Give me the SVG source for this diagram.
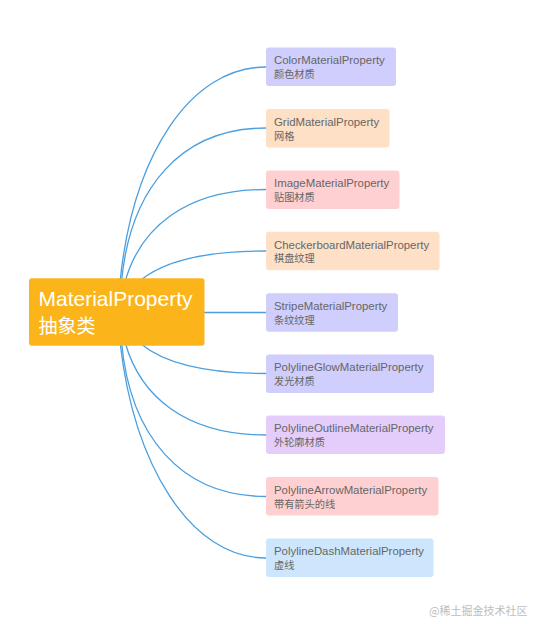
<svg xmlns="http://www.w3.org/2000/svg" width="533" height="624" viewBox="0 0 533 624">
<style>
.bg{fill:#ffffff}
.conn path{fill:none;stroke:#4a9fe0;stroke-width:1.3}
.box{rx:3;ry:3}
.t1{font-family:"Liberation Sans","Noto Sans CJK SC",sans-serif;font-size:11.4px;fill:#666666}
.t2{font-family:"Noto Sans CJK SC","Liberation Sans",sans-serif;font-size:10.2px;fill:#666666}
.mt1{font-family:"Liberation Sans","Noto Sans CJK SC",sans-serif;font-size:21px;fill:#ffffff}
.mt2{font-family:"Noto Sans CJK SC","Liberation Sans",sans-serif;font-size:19px;fill:#ffffff}
.lav{fill:#cfcefc}
.peach{fill:#fde0c6}
.pink{fill:#ffd0d1}
.purple{fill:#e4cdfb}
.blue{fill:#cde6fd}
.wm{font-family:"Noto Sans CJK SC","Liberation Sans",sans-serif;font-size:11px;fill:#bdbdbd}
</style>
<rect class="bg" x="0" y="0" width="533" height="624"/>
<g id="connectors" class="conn">
<path d="M 120 282 C 133 155 190 67 266 67"/>
<path d="M 121.5 282 C 130 189 180 128 266 128"/>
<path d="M 125 282 C 140 228 185 189.5 266 189.5"/>
<path d="M 141 280 C 163 262 200 251 266 251"/>
<path d="M 204 312.5 H 266"/>
<path d="M 141 344 C 163 362 200 373.5 266 373.5"/>
<path d="M 125 342 C 140 396 185 435 266 435"/>
<path d="M 121.5 342 C 130 435 180 496.5 266 496.5"/>
<path d="M 120 342 C 134 465 190 558 266 558"/>
</g>
<g id="root">
<rect x="29" y="278.3" width="175.5" height="67.5" rx="3" ry="3" fill="#fbb51a"/>
<text class="mt1" x="38.5" y="305.5">MaterialProperty</text>
<text class="mt2" x="38.5" y="333">抽象类</text>
</g>
<g id="n1">
<rect class="lav" x="266" y="47.5" width="130" height="38.5" rx="3" ry="3"/>
<text class="t1" x="274" y="64.3">ColorMaterialProperty</text>
<text class="t2" x="274" y="78">颜色材质</text>
</g>
<g id="n2">
<rect class="peach" x="266" y="109" width="123.5" height="38.5" rx="3" ry="3"/>
<text class="t1" x="274" y="125.8">GridMaterialProperty</text>
<text class="t2" x="274" y="139.5">网格</text>
</g>
<g id="n3">
<rect class="pink" x="266" y="170.4" width="133.5" height="38.5" rx="3" ry="3"/>
<text class="t1" x="274" y="187.2">ImageMaterialProperty</text>
<text class="t2" x="274" y="200.9">贴图材质</text>
</g>
<g id="n4">
<rect class="peach" x="266" y="231.8" width="173.5" height="38.5" rx="3" ry="3"/>
<text class="t1" x="274" y="248.6">CheckerboardMaterialProperty</text>
<text class="t2" x="274" y="262.3">棋盘纹理</text>
</g>
<g id="n5">
<rect class="lav" x="266" y="293.2" width="132" height="38.5" rx="3" ry="3"/>
<text class="t1" x="274" y="310">StripeMaterialProperty</text>
<text class="t2" x="274" y="323.7">条纹纹理</text>
</g>
<g id="n6">
<rect class="lav" x="266" y="354.4" width="168" height="38.5" rx="3" ry="3"/>
<text class="t1" x="274" y="371.2">PolylineGlowMaterialProperty</text>
<text class="t2" x="274" y="384.9">发光材质</text>
</g>
<g id="n7">
<rect class="purple" x="266" y="415.6" width="179" height="38.5" rx="3" ry="3"/>
<text class="t1" x="274" y="432.4">PolylineOutlineMaterialProperty</text>
<text class="t2" x="274" y="446.1">外轮廓材质</text>
</g>
<g id="n8">
<rect class="pink" x="266" y="477" width="172.5" height="38.5" rx="3" ry="3"/>
<text class="t1" x="274" y="493.8">PolylineArrowMaterialProperty</text>
<text class="t2" x="274" y="507.5">带有箭头的线</text>
</g>
<g id="n9">
<rect class="blue" x="266" y="538.4" width="167.5" height="38.5" rx="3" ry="3"/>
<text class="t1" x="274" y="555.2">PolylineDashMaterialProperty</text>
<text class="t2" x="274" y="568.9">虚线</text>
</g>
<text class="wm" x="429" y="615">@稀土掘金技术社区</text>
</svg>
